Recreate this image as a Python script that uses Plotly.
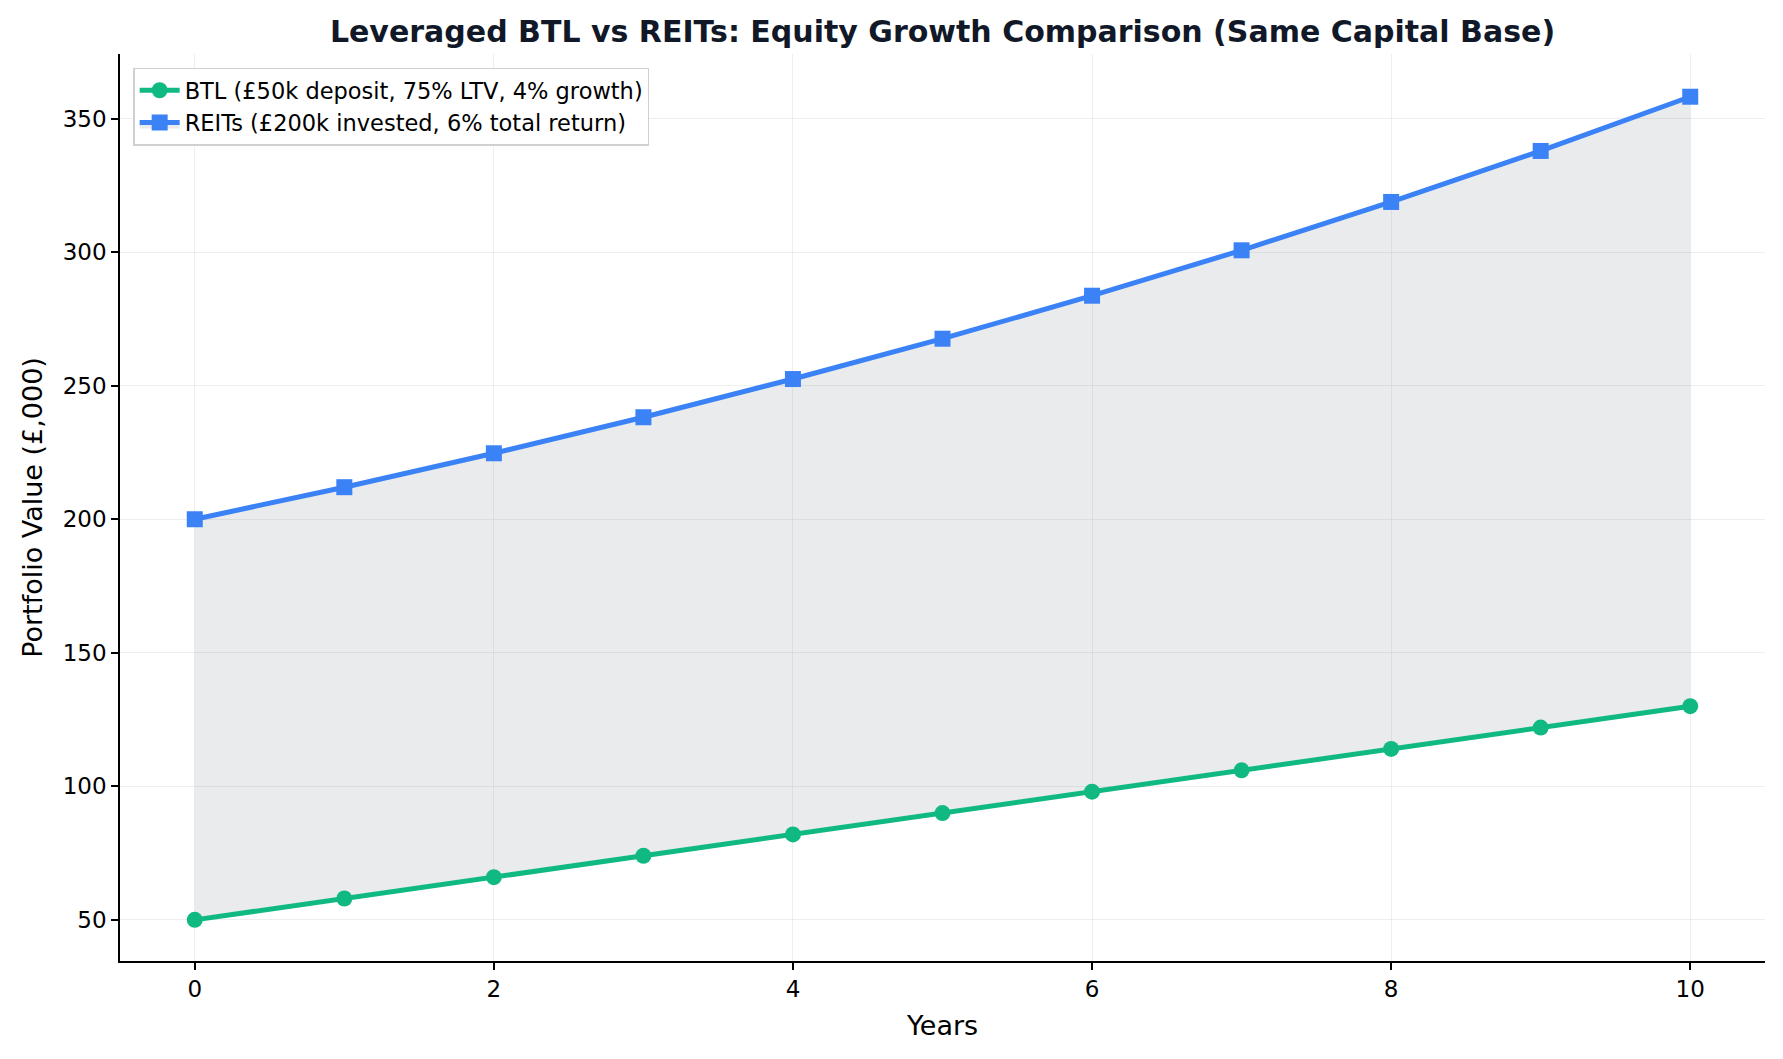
import plotly.graph_objects as go

years = [0, 1, 2, 3, 4, 5, 6, 7, 8, 9, 10]
btl_values = [50, 58, 66, 74, 82, 90, 98, 106, 114, 122, 130]
reit_values = [200.0, 212.0, 224.7, 238.2, 252.5, 267.6, 283.7, 300.7, 318.8, 337.9, 358.2]

btl_name = "BTL (£50k deposit, 75% LTV, 4% growth)"
reit_name = "REITs (£200k invested, 6% total return)"
title = "Leveraged BTL vs REITs: Equity Growth Comparison (Same Capital Base)"

fig = go.Figure()
fig.add_trace(go.Scatter(
    x=years, y=btl_values, mode="lines+markers", name=btl_name,
    line=dict(color="#10b981", width=5),
    marker=dict(symbol="circle", size=16, color="#10b981"),
))
fig.add_trace(go.Scatter(
    x=years, y=reit_values, mode="lines+markers", name=reit_name,
    line=dict(color="#3b82f6", width=5),
    marker=dict(symbol="square", size=16, color="#3b82f6"),
    fill="tonexty", fillcolor="rgba(156,163,175,0.22)",
))

axis_common = dict(
    showline=True, linecolor="black", linewidth=1.5,
    ticks="outside", ticklen=7, tickwidth=1.5, tickcolor="black",
    showgrid=True, gridcolor="rgba(200,200,200,0.3)", gridwidth=1.2,
    zeroline=False, tickfont=dict(size=23, color="black"),
    mirror=False,
)

fig.update_layout(
    width=1783, height=1059,
    margin=dict(l=120, r=18, t=54, b=98),
    paper_bgcolor="white", plot_bgcolor="white",
    font=dict(family="DejaVu Sans", color="black"),
    title=dict(text="<b>" + title + "</b>", x=(120 + (1783 - 18 - 120) / 2) / 1783,
               xanchor="center", y=1 - 31 / 1059, yanchor="middle",
               font=dict(size=30, color="#111827")),
    showlegend=True,
    legend=dict(x=0.008, y=0.985, xanchor="left", yanchor="top", traceorder="normal",
                bgcolor="rgba(255,255,255,0.85)", bordercolor="#d0d0d0", borderwidth=1.5,
                font=dict(size=22.5, color="black"), tracegroupgap=2, itemwidth=40),
)
fig.update_xaxes(**axis_common, range=[-0.5, 10.5], tickvals=[0, 2, 4, 6, 8, 10],
                 title=dict(text="Years", font=dict(size=27, color="black"), standoff=15))
fig.update_yaxes(**axis_common, range=[34.6, 374.2], tickvals=[50, 100, 150, 200, 250, 300, 350],
                 title=dict(text="Portfolio Value (£,000)", font=dict(size=27, color="black"), standoff=12))

fig.write_html("out.html")
